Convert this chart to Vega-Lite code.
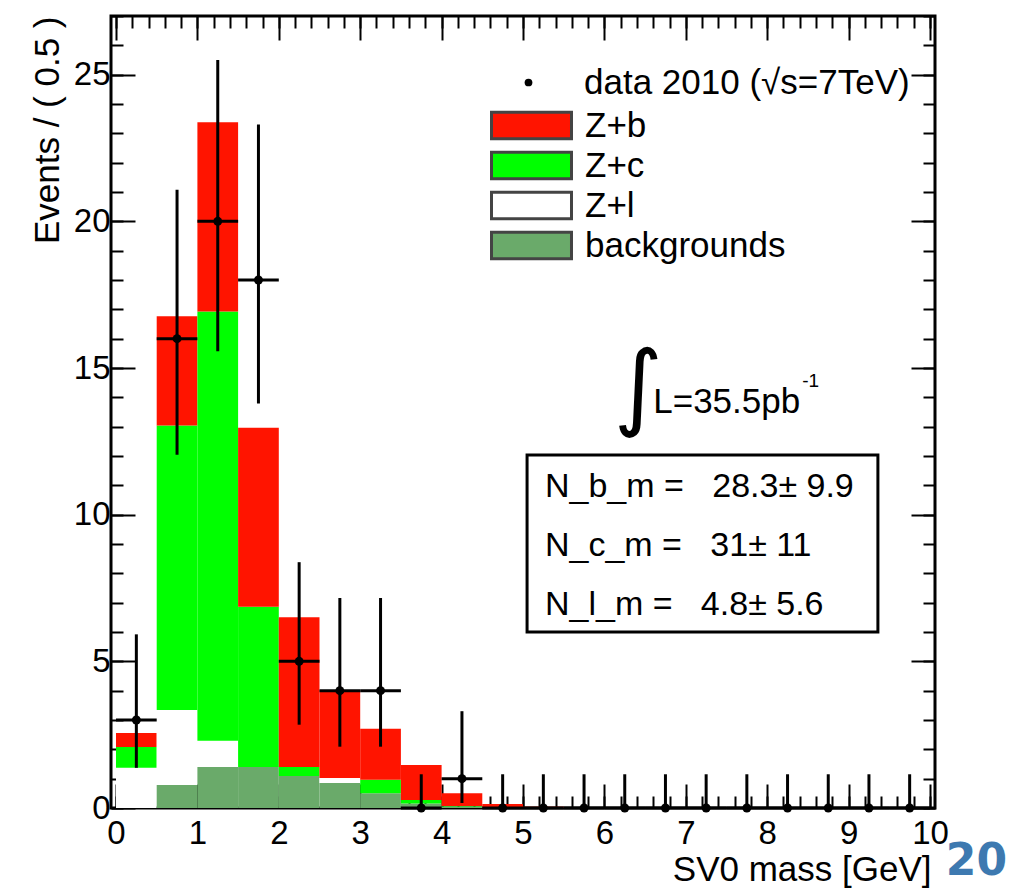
{
  "$schema": "https://vega.github.io/schema/vega-lite/v6.json",
  "width": 824,
  "height": 792,
  "autosize": "none",
  "padding": {"left": 111, "top": 16, "right": 82, "bottom": 81},
  "background": "white",
  "config": {
    "view": {"stroke": "black", "strokeWidth": 3},
    "font": "Liberation Sans",
    "axis": {"grid": false, "domain": false, "tickColor": "black", "tickWidth": 2, "labelColor": "black", "titleColor": "black", "labelFont": "Liberation Sans", "titleFont": "Liberation Sans", "titleFontWeight": "normal", "labelFlush": false, "labelOverlap": false}
  },
  "datasets": {
    "stack": [
      {"lo": 0, "hi": 0.5, "comp": "Z+l", "n": 1.37},
      {"lo": 0, "hi": 0.5, "comp": "Z+c", "n": 0.71},
      {"lo": 0, "hi": 0.5, "comp": "Z+b", "n": 0.48},
      {"lo": 0.5, "hi": 1, "comp": "backgrounds", "n": 0.78},
      {"lo": 0.5, "hi": 1, "comp": "Z+l", "n": 2.56},
      {"lo": 0.5, "hi": 1, "comp": "Z+c", "n": 9.7},
      {"lo": 0.5, "hi": 1, "comp": "Z+b", "n": 3.72},
      {"lo": 1, "hi": 1.5, "comp": "backgrounds", "n": 1.4},
      {"lo": 1, "hi": 1.5, "comp": "Z+l", "n": 0.89},
      {"lo": 1, "hi": 1.5, "comp": "Z+c", "n": 14.64},
      {"lo": 1, "hi": 1.5, "comp": "Z+b", "n": 6.45},
      {"lo": 1.5, "hi": 2, "comp": "backgrounds", "n": 1.4},
      {"lo": 1.5, "hi": 2, "comp": "Z+c", "n": 5.46},
      {"lo": 1.5, "hi": 2, "comp": "Z+b", "n": 6.1},
      {"lo": 2, "hi": 2.5, "comp": "backgrounds", "n": 1.09},
      {"lo": 2, "hi": 2.5, "comp": "Z+c", "n": 0.31},
      {"lo": 2, "hi": 2.5, "comp": "Z+b", "n": 5.1},
      {"lo": 2.5, "hi": 3, "comp": "backgrounds", "n": 0.85},
      {"lo": 2.5, "hi": 3, "comp": "Z+l", "n": 0.17},
      {"lo": 2.5, "hi": 3, "comp": "Z+b", "n": 3.0},
      {"lo": 3, "hi": 3.5, "comp": "backgrounds", "n": 0.5},
      {"lo": 3, "hi": 3.5, "comp": "Z+c", "n": 0.46},
      {"lo": 3, "hi": 3.5, "comp": "Z+b", "n": 1.74},
      {"lo": 3.5, "hi": 4, "comp": "backgrounds", "n": 0.15},
      {"lo": 3.5, "hi": 4, "comp": "Z+c", "n": 0.12},
      {"lo": 3.5, "hi": 4, "comp": "Z+b", "n": 1.2},
      {"lo": 4, "hi": 4.5, "comp": "backgrounds", "n": 0.05},
      {"lo": 4, "hi": 4.5, "comp": "Z+c", "n": 0.02},
      {"lo": 4, "hi": 4.5, "comp": "Z+b", "n": 0.43},
      {"lo": 4.5, "hi": 5, "comp": "backgrounds", "n": 0.02},
      {"lo": 4.5, "hi": 5, "comp": "Z+b", "n": 0.12},
      {"lo": 5, "hi": 5.5, "comp": "Z+b", "n": 0.04}
    ],
    "pts": [
      {"x": 0.25, "xlo": 0, "xhi": 0.5, "n": 3, "lo": 1.37, "hi": 5.92},
      {"x": 0.75, "xlo": 0.5, "xhi": 1, "n": 16, "lo": 12.04, "hi": 21.08},
      {"x": 1.25, "xlo": 1, "xhi": 1.5, "n": 20, "lo": 15.57, "hi": 25.5},
      {"x": 1.75, "xlo": 1.5, "xhi": 2, "n": 18, "lo": 13.79, "hi": 23.3},
      {"x": 2.25, "xlo": 2, "xhi": 2.5, "n": 5, "lo": 2.84, "hi": 8.38},
      {"x": 2.75, "xlo": 2.5, "xhi": 3, "n": 4, "lo": 2.09, "hi": 7.16},
      {"x": 3.25, "xlo": 3, "xhi": 3.5, "n": 4, "lo": 2.09, "hi": 7.16},
      {"x": 3.75, "xlo": 3.5, "xhi": 4, "n": 0, "lo": 0, "hi": 1.15},
      {"x": 4.25, "xlo": 4, "xhi": 4.5, "n": 1, "lo": 0.17, "hi": 3.3},
      {"x": 4.75, "xlo": 4.5, "xhi": 5, "n": 0, "lo": 0, "hi": 1.15},
      {"x": 5.25, "xlo": 5, "xhi": 5.5, "n": 0, "lo": 0, "hi": 1.15},
      {"x": 5.75, "xlo": 5.5, "xhi": 6, "n": 0, "lo": 0, "hi": 1.15},
      {"x": 6.25, "xlo": 6, "xhi": 6.5, "n": 0, "lo": 0, "hi": 1.15},
      {"x": 6.75, "xlo": 6.5, "xhi": 7, "n": 0, "lo": 0, "hi": 1.15},
      {"x": 7.25, "xlo": 7, "xhi": 7.5, "n": 0, "lo": 0, "hi": 1.15},
      {"x": 7.75, "xlo": 7.5, "xhi": 8, "n": 0, "lo": 0, "hi": 1.15},
      {"x": 8.25, "xlo": 8, "xhi": 8.5, "n": 0, "lo": 0, "hi": 1.15},
      {"x": 8.75, "xlo": 8.5, "xhi": 9, "n": 0, "lo": 0, "hi": 1.15},
      {"x": 9.25, "xlo": 9, "xhi": 9.5, "n": 0, "lo": 0, "hi": 1.15},
      {"x": 9.75, "xlo": 9.5, "xhi": 10, "n": 0, "lo": 0, "hi": 1.15}
    ]
  },
  "layer": [
    {
      "data": {"name": "stack"},
      "mark": {"type": "bar", "orient": "vertical"},
      "encoding": {
        "x": {"field": "lo", "type": "quantitative", "scale": {"domain": [0, 10], "nice": false, "zero": false},
          "axis": {"orient": "bottom", "values": [0,1,2,3,4,5,6,7,8,9,10], "tickSize": -24, "labelFontSize": 33, "labelPadding": 33, "title": "SV0 mass [GeV]", "titleFontSize": 35, "titleAnchor": "end", "titlePadding": 2, "titleX": 820}},
        "x2": {"field": "hi"},
        "y": {"field": "n", "type": "quantitative", "stack": "zero", "scale": {"domain": [0, 27], "nice": false, "zero": false},
          "axis": {"orient": "left", "values": [0,5,10,15,20,25], "tickSize": -24, "labelFontSize": 33, "labelPadding": 25, "title": "Events / ( 0.5 )", "titleFontSize": 35, "titleAnchor": "end", "titlePadding": 8}},
        "color": {"field": "comp", "type": "nominal",
          "scale": {"domain": ["Z+b", "Z+c", "Z+l", "backgrounds"], "range": ["#ff1400", "#00ff00", "#ffffff", "#6aaa6a"]},
          "legend": {
            "orient": "none", "legendX": 403, "legendY": 92, "title": null,
            "labelFont": "Liberation Sans", "labelFontSize": 35, "labelColor": "black", "labelOffset": 36, "labelLimit": 600,
            "symbolType": "M-3,-1H3V1H-3Z", "symbolSize": 711, "symbolStrokeWidth": 3, "symbolStrokeColor": "#444444", "symbolOpacity": 1, "rowPadding": 1, "padding": 0
          }},
        "order": {"field": "comp", "sort": "descending"}
      }
    },
    {
      "data": {"name": "pts"},
      "mark": {"type": "rule", "color": "black", "strokeWidth": 3},
      "encoding": {
        "x": {"field": "x", "type": "quantitative", "scale": {"domain": [0, 10], "nice": false, "zero": false},
          "axis": {"orient": "bottom", "values": [0,0.2,0.4,0.6,0.8,1,1.2,1.4,1.6,1.8,2,2.2,2.4,2.6,2.8,3,3.2,3.4,3.6,3.8,4,4.2,4.4,4.6,4.8,5,5.2,5.4,5.6,5.8,6,6.2,6.4,6.6,6.8,7,7.2,7.4,7.6,7.8,8,8.2,8.4,8.6,8.8,9,9.2,9.4,9.6,9.8,10], "tickSize": -12, "labels": false, "title": null}},
        "y": {"field": "lo", "type": "quantitative", "scale": {"domain": [0, 27], "nice": false, "zero": false},
          "axis": {"orient": "left", "values": [0,1,2,3,4,5,6,7,8,9,10,11,12,13,14,15,16,17,18,19,20,21,22,23,24,25,26,27], "tickSize": -12, "labels": false, "title": null}},
        "y2": {"field": "hi"}
      }
    },
    {
      "data": {"name": "pts"},
      "mark": {"type": "rule", "color": "black", "strokeWidth": 3},
      "encoding": {
        "x": {"field": "xlo", "type": "quantitative", "scale": {"domain": [0, 10], "nice": false, "zero": false},
          "axis": {"orient": "top", "values": [0,1,2,3,4,5,6,7,8,9,10], "tickSize": -24, "labels": false, "title": null}},
        "x2": {"field": "xhi"},
        "y": {"field": "n", "type": "quantitative", "scale": {"domain": [0, 27], "nice": false, "zero": false},
          "axis": {"orient": "right", "values": [0,5,10,15,20,25], "tickSize": -24, "labels": false, "title": null}}
      }
    },
    {
      "data": {"name": "pts"},
      "mark": {"type": "point", "filled": true, "color": "black", "opacity": 1, "size": 80},
      "encoding": {
        "x": {"field": "x", "type": "quantitative", "scale": {"domain": [0, 10], "nice": false, "zero": false},
          "axis": {"orient": "top", "values": [0,0.2,0.4,0.6,0.8,1,1.2,1.4,1.6,1.8,2,2.2,2.4,2.6,2.8,3,3.2,3.4,3.6,3.8,4,4.2,4.4,4.6,4.8,5,5.2,5.4,5.6,5.8,6,6.2,6.4,6.6,6.8,7,7.2,7.4,7.6,7.8,8,8.2,8.4,8.6,8.8,9,9.2,9.4,9.6,9.8,10], "tickSize": -12, "labels": false, "title": null}},
        "y": {"field": "n", "type": "quantitative", "scale": {"domain": [0, 27], "nice": false, "zero": false},
          "axis": {"orient": "right", "values": [0,1,2,3,4,5,6,7,8,9,10,11,12,13,14,15,16,17,18,19,20,21,22,23,24,25,26,27], "tickSize": -12, "labels": false, "title": null}},
        "shape": {"datum": "data 2010 (√s=7TeV)", "type": "nominal", "scale": {"range": ["circle"]},
          "legend": {"orient": "none", "legendX": 400, "legendY": 49, "title": null,
            "labelFont": "Liberation Sans", "labelFontSize": 35, "labelColor": "black", "labelOffset": 38, "labelLimit": 600,
            "symbolSize": 60, "symbolFillColor": "black", "symbolStrokeColor": "black", "symbolOpacity": 1, "padding": 0}}
      }
    },
    {
      "data": {"values": [{}]},
      "mark": {"type": "rect", "fill": "white", "stroke": "black", "strokeWidth": 3},
      "encoding": {
        "x": {"datum": 5.05, "type": "quantitative", "axis": null},
        "x2": {"datum": 9.36},
        "y": {"datum": 12.03, "type": "quantitative", "axis": null},
        "y2": {"datum": 6.0}
      }
    },
    {
      "data": {"values": [{}]},
      "mark": {"type": "text", "text": ["N_b_m =\u00a0\u00a0 28.3± 9.9", "N_c_m =\u00a0\u00a0 31± 11", "N_l_m =\u00a0\u00a0 4.8± 5.6"], "align": "left", "baseline": "middle", "lineHeight": 59, "font": "Liberation Sans", "fontSize": 34, "color": "black"},
      "encoding": {
        "x": {"datum": 5.27, "type": "quantitative", "axis": null},
        "y": {"datum": 10.94, "type": "quantitative", "axis": null}
      }
    },
    {
      "data": {"values": [{}]},
      "mark": {"type": "text", "text": "∫", "align": "center", "baseline": "middle", "font": "DejaVu Sans", "fontSize": 94, "color": "black"},
      "encoding": {
        "x": {"datum": 6.42, "type": "quantitative", "axis": null},
        "y": {"datum": 14.25, "type": "quantitative", "axis": null}
      }
    },
    {
      "data": {"values": [{}]},
      "mark": {"type": "text", "text": "L=35.5pb", "align": "left", "baseline": "alphabetic", "font": "Liberation Sans", "fontSize": 35, "color": "black"},
      "encoding": {
        "x": {"datum": 6.6, "type": "quantitative", "axis": null},
        "y": {"datum": 13.45, "type": "quantitative", "axis": null}
      }
    },
    {
      "data": {"values": [{}]},
      "mark": {"type": "text", "text": "-1", "align": "left", "baseline": "alphabetic", "font": "Liberation Sans", "fontSize": 19, "color": "black"},
      "encoding": {
        "x": {"datum": 8.43, "type": "quantitative", "axis": null},
        "y": {"datum": 14.35, "type": "quantitative", "axis": null}
      }
    },
    {
      "data": {"values": [{}]},
      "mark": {"type": "text", "text": "20", "align": "center", "baseline": "alphabetic", "font": "DejaVu Sans", "fontWeight": "bold", "fontSize": 44, "color": "#3d79b0"},
      "encoding": {
        "x": {"datum": 10.57, "type": "quantitative", "axis": null},
        "y": {"datum": -2.3, "type": "quantitative", "axis": null}
      }
    }
  ],
  "resolve": {"axis": {"x": "independent", "y": "independent"}}
}
